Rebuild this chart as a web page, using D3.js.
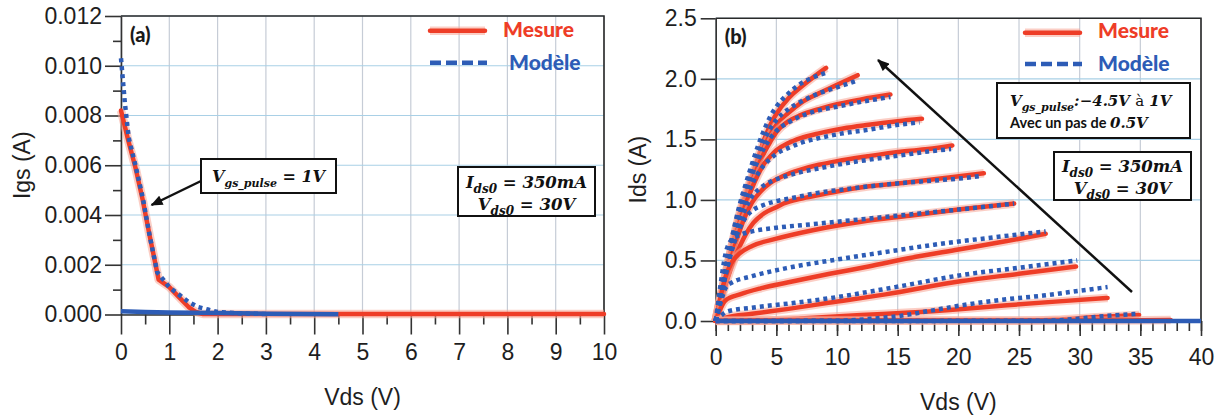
<!DOCTYPE html>
<html><head><meta charset="utf-8">
<script src="https://cdn.jsdelivr.net/npm/d3@7"></script>
<style>body{margin:0;background:#fff}</style>
</head><body>
<svg id="c" width="1224" height="418"></svg>
<script>
// ---------- DATA ----------
// Panel (a): Igs vs Vds, Vgs_pulse = 1V
const aXTicks = [0,1,2,3,4,5,6,7,8,9,10];
const aXMinor = [0.5,1.5,2.5,3.5,4.5,5.5,6.5,7.5,8.5,9.5];
const aYTicks = [0,0.002,0.004,0.006,0.008,0.010,0.012];
const aYMinor = [0.001,0.003,0.005,0.007,0.009,0.011];
const igsMesure = [[0,0.0082],[0.15,0.0070],[0.3,0.0059],[0.45,0.0046],[0.6,0.0031],[0.78,0.0014],[1.0,0.0011],[1.2,0.0007],[1.4,0.0003],[1.55,0.0001],[1.7,0.00002],[10,0.00002]];
const igsModele = [[0,0.0103],[0.08,0.0085],[0.16,0.0071],[0.3,0.0060],[0.45,0.0047],[0.6,0.0031],[0.75,0.0017],[1.0,0.0011],[1.2,0.0008],[1.4,0.0005],[1.6,0.0003],[1.8,0.0002],[2.0,0.0001],[2.5,0.00004],[3,0.00002]];
const igsModeleLow = [[0,0.00013],[0.5,0.0001],[1,0.00008],[2,0.00006],[3,0.00003],[4.5,0.00001]];

// Panel (b): Ids vs Vds, Vgs_pulse from 1V down to -4.5V (step 0.5V)
const bXTicks = [0,5,10,15,20,25,30,35,40];
const bXMinor = d3.range(0,41,1);
const bYTicks = [0,0.5,1.0,1.5,2.0,2.5];
const vgsPulse = [1,0.5,0,-0.5,-1,-1.5,-2,-2.5,-3,-3.5,-4,-4.5];
const idsMesure = [
 [[0,0],[0.5,0.24],[1,0.47],[1.5,0.7],[2,0.9],[2.5,1.06],[3,1.2],[3.5,1.35],[4,1.5],[4.5,1.62],[5,1.71],[6,1.84],[7,1.93],[8,2.01],[9.1,2.09]],
 [[0,0],[0.5,0.24],[1,0.47],[1.5,0.69],[2,0.88],[2.5,1.04],[3,1.18],[3.5,1.32],[4,1.44],[4.5,1.54],[5,1.62],[6,1.72],[7,1.8],[8.5,1.88],[10,1.95],[11.7,2.03]],
 [[0,0],[0.5,0.23],[1,0.46],[1.5,0.67],[2,0.85],[2.5,1.01],[3,1.15],[3.5,1.28],[4,1.39],[4.5,1.48],[5,1.56],[6,1.65],[7,1.70],[8.5,1.75],[10,1.79],[12,1.83],[14.4,1.87]],
 [[0,0],[0.5,0.22],[1,0.44],[1.5,0.64],[2,0.82],[2.5,0.97],[3,1.1],[3.5,1.21],[4,1.3],[4.5,1.36],[5,1.41],[6,1.47],[7,1.51],[8.5,1.55],[10.5,1.59],[12.6,1.62],[15,1.65],[17,1.67]],
 [[0,0],[0.5,0.21],[1,0.41],[1.5,0.59],[2,0.75],[2.5,0.88],[3,0.98],[3.7,1.07],[4.5,1.14],[5.6,1.2],[7,1.25],[8.5,1.29],[10,1.32],[12.5,1.36],[15.4,1.4],[17.5,1.42],[19.5,1.45]],
 [[0,0],[0.5,0.19],[1,0.36],[1.5,0.5],[2,0.62],[2.5,0.72],[3.1,0.81],[4,0.89],[5,0.94],[5.6,0.97],[7,1.01],[8.5,1.04],[10,1.07],[12.5,1.11],[15.4,1.14],[18,1.17],[20.4,1.2],[22.1,1.22]],
 [[0,0],[0.4,0.2],[0.8,0.36],[1.3,0.48],[2,0.56],[3,0.62],[5,0.68],[8,0.75],[12,0.82],[16,0.87],[20,0.92],[24.6,0.97]],
 [[0,0],[0.3,0.08],[0.8,0.17],[2,0.22],[3.7,0.27],[6,0.32],[9.4,0.39],[12.6,0.45],[16,0.52],[20,0.59],[24,0.66],[27.2,0.72]],
 [[0,0],[0.9,0.03],[3,0.06],[6,0.1],[9.3,0.15],[14,0.22],[20.3,0.33],[25,0.39],[29.7,0.45]],
 [[0,0],[4,0.003],[7,0.02],[12,0.05],[16,0.07],[20.3,0.1],[24,0.13],[28,0.16],[32.3,0.19]],
 [[0,0.003],[25,0.003],[28,0.01],[31,0.03],[34.9,0.05]],
 [[0,0.003],[33,0.005],[37.5,0.008]]
];
const idsModele = [
 [[0,0],[0.5,0.26],[1,0.52],[1.5,0.76],[2,0.97],[2.5,1.14],[3,1.3],[3.5,1.45],[4,1.58],[4.5,1.69],[5,1.77],[6,1.88],[7,1.96],[8,2.01],[9.1,2.05]],
 [[0,0],[0.5,0.26],[1,0.51],[1.5,0.74],[2,0.94],[2.5,1.11],[3,1.26],[3.5,1.39],[4,1.5],[4.5,1.59],[5,1.66],[6,1.75],[7,1.81],[8.5,1.88],[10,1.93],[11.5,1.98]],
 [[0,0],[0.5,0.25],[1,0.5],[1.5,0.72],[2,0.91],[2.5,1.07],[3,1.21],[3.5,1.33],[4,1.43],[4.5,1.51],[5,1.57],[6,1.64],[7,1.69],[8.5,1.74],[10,1.77],[12,1.81],[14.4,1.85]],
 [[0,0],[0.5,0.25],[1,0.48],[1.5,0.69],[2,0.87],[2.5,1.01],[3,1.13],[3.5,1.22],[4,1.29],[4.5,1.34],[5,1.38],[6,1.43],[7,1.47],[8.5,1.51],[10.5,1.55],[12.6,1.58],[15,1.62],[16.8,1.64]],
 [[0,0],[0.5,0.24],[1,0.46],[1.5,0.66],[2,0.82],[2.5,0.94],[3,1.03],[3.7,1.1],[4.5,1.15],[5.6,1.19],[7,1.23],[8.5,1.26],[10,1.29],[12.5,1.33],[15.4,1.37],[17.5,1.4],[19.4,1.42]],
 [[0,0],[0.5,0.24],[1,0.46],[1.5,0.64],[2,0.77],[2.5,0.86],[3,0.91],[4,0.96],[5,0.99],[6,1.01],[7,1.03],[8.5,1.06],[10,1.08],[12.5,1.11],[15.4,1.14],[18,1.16],[20.4,1.18],[22,1.2]],
 [[0,0],[0.4,0.3],[0.8,0.55],[1.3,0.67],[2,0.71],[3,0.74],[5,0.77],[8,0.8],[12,0.84],[16,0.88],[20,0.92],[24.6,0.97]],
 [[0,0],[0.4,0.15],[0.8,0.27],[1.2,0.31],[3,0.37],[6,0.44],[9.5,0.5],[14,0.57],[18,0.63],[22,0.68],[27.2,0.74]],
 [[0,0],[0.5,0.05],[1,0.08],[3,0.11],[6.5,0.15],[9.5,0.19],[14.8,0.28],[20.3,0.38],[25,0.44],[29.8,0.5]],
 [[0,0],[10,0.002],[13,0.02],[15,0.04],[18,0.09],[20.3,0.13],[24,0.18],[27,0.21],[30,0.25],[32.3,0.28]],
 [[0,0],[27,0.002],[30,0.02],[32,0.04],[34.9,0.06]],
 [[0,0],[40,0]]
];

// ---------- DRAW ----------
const RED = '#ee3d27', RED_GLOW = '#f7a595', BLUE = '#2d5cb6';
const svg = d3.select('#c');
svg.append('rect').attr('width',1224).attr('height',418).attr('fill','#fff');
const defs = svg.append('defs');
defs.append('marker').attr('id','arr').attr('viewBox','0 0 12 10')
  .attr('refX',11).attr('refY',5).attr('markerWidth',13).attr('markerHeight',10)
  .attr('markerUnits','userSpaceOnUse').attr('orient','auto')
  .append('path').attr('d','M0,0 L12,5 L0,10 Z').attr('fill','#111');

const TICKFONT = "'Liberation Sans', Arial, sans-serif";
const LEGFONT = "Lato, 'Open Sans', sans-serif";
const MATHFONT = "'DejaVu Serif', 'Liberation Serif', serif";

function panel(c){
  const g = svg.append('g');
  const x = d3.scaleLinear().domain(c.xDomain).range([c.left,c.right]);
  const y = d3.scaleLinear().domain(c.yDomain).range([c.bottom,c.top]);
  // grid
  g.append('g').selectAll('line').data(c.xTicks).join('line')
    .attr('x1',d=>x(d)).attr('x2',d=>x(d)).attr('y1',c.top).attr('y2',c.bottom)
    .attr('stroke','#c6ccd6').attr('stroke-width',1.2);
  g.append('g').selectAll('line').data(c.yTicks).join('line')
    .attr('x1',c.left).attr('x2',c.right).attr('y1',d=>y(d)).attr('y2',d=>y(d))
    .attr('stroke','#a9d0e6').attr('stroke-width',1.2);
  // frame (top & right)
  g.append('path').attr('d',`M${c.left},${c.top}H${c.right}V${c.bottom}`)
    .attr('fill','none').attr('stroke','#2a2a2a').attr('stroke-width',1.6);
  // axes
  const style = s => {
    s.select('.domain').attr('stroke','#333').attr('stroke-width',1.6);
    s.selectAll('.tick line').attr('stroke','#333').attr('stroke-width',1.6);
    s.selectAll('.tick text').attr('fill','#1e1e1e').style('font-family',TICKFONT).style('font-size','23px');
  };
  g.append('g').attr('transform',`translate(0,${c.bottom})`)
    .call(d3.axisBottom(x).tickValues(c.xMinor).tickSize(c.xMinorLen).tickSizeOuter(0).tickFormat(''))
    .call(style).call(s=>s.select('.domain').remove());
  g.append('g').attr('transform',`translate(${c.left},0)`)
    .call(d3.axisLeft(y).tickValues(c.yMinor).tickSize(c.yMinorLen).tickSizeOuter(0).tickFormat(''))
    .call(style).call(s=>s.select('.domain').remove());
  g.append('g').attr('transform',`translate(0,${c.bottom})`)
    .call(d3.axisBottom(x).tickValues(c.xTicks).tickSize(c.xTickLen).tickPadding(c.xPad).tickSizeOuter(0).tickFormat(c.xFmt))
    .call(style);
  g.append('g').attr('transform',`translate(${c.left},0)`)
    .call(d3.axisLeft(y).tickValues(c.yTicks).tickSize(c.yTickLen).tickPadding(c.yPad).tickSizeOuter(0).tickFormat(c.yFmt))
    .call(style);
  // titles
  g.append('text').attr('x',(c.left+c.right)/2).attr('y',c.xTitleY).attr('text-anchor','middle')
    .style('font-family',TICKFONT).style('font-size','23px').attr('fill','#1e1e1e').text(c.xTitle);
  g.append('text').attr('transform',`translate(${c.yTitleX},${(c.top+c.bottom)/2}) rotate(-90)`)
    .attr('text-anchor','middle').style('font-family',TICKFONT).style('font-size','23px').attr('fill','#1e1e1e').text(c.yTitle);
  // panel label
  g.append('text').attr('x',c.left+9).attr('y',c.top+26).style('font-family',LEGFONT)
    .style('font-weight','900').style('font-size','20px').attr('fill','#1a1a1a').text(c.label);
  return {g,x,y};
}

function redLine(g,line,data,w){
  g.append('path').datum(data).attr('d',line).attr('fill','none')
    .attr('stroke',RED_GLOW).attr('stroke-width',w+4).attr('stroke-opacity',0.55).attr('stroke-linejoin','round');
  g.append('path').datum(data).attr('d',line).attr('fill','none')
    .attr('stroke',RED).attr('stroke-width',w).attr('stroke-linejoin','round').attr('stroke-linecap','round');
}
function blueLine(g,line,data,w,dash){
  g.append('path').datum(data).attr('d',line).attr('fill','none')
    .attr('stroke',BLUE).attr('stroke-width',w).attr('stroke-dasharray',dash||null);
}

function legend(g,x0,yM,yB){
  redLine(g,d3.line(),[[x0,yM],[x0+55,yM]],4.5);
  blueLine(g,d3.line(),[[x0,yB],[x0+57,yB]],4.5,'11,5');
}
function legText(g,x,y,t,col){
  g.append('text').attr('x',x).attr('y',y).style('font-family',LEGFONT).style('font-weight','900')
    .style('font-size','21px').attr('fill',col).text(t);
}
// math text helper
function mathLine(g,x,y,parts,anchor,fs){
  fs = fs||17;
  const sub = Math.round(fs*0.7);
  const t = g.append('text').attr('x',x).attr('y',y).attr('text-anchor',anchor||'start')
    .style('font-family',MATHFONT).style('font-weight','bold').style('font-style','italic')
    .style('font-size',fs+'px').attr('fill','#111');
  let shift=0;
  parts.forEach(p=>{
    const s=t.append('tspan').text(p.t);
    if(p.sub){ s.attr('dy',5-shift).style('font-size',sub+'px'); shift=5; }
    else { if(shift){s.attr('dy',-shift); shift=0;} }
    if(p.sans) s.style('font-family',LEGFONT).style('font-style','normal').style('font-size',(fs-0.5)+'px');
    if(p.normal) s.style('font-style','normal').style('font-weight','normal');
  });
  return t;
}
function box(g,x0,y0,x1,y1){
  g.append('rect').attr('x',x0).attr('y',y0).attr('width',x1-x0).attr('height',y1-y0)
    .attr('fill','#fff').attr('stroke','#111').attr('stroke-width',2);
}

// ---------- Panel (a) ----------
const A = panel({left:121,right:604,top:16,bottom:314.5,xDomain:[0,10],yDomain:[0,0.012],
  xTicks:aXTicks,xMinor:aXMinor,yTicks:aYTicks,yMinor:aYMinor,
  xTickLen:20,xMinorLen:10,yTickLen:16,yMinorLen:8,xPad:9,yPad:3,
  xFmt:d3.format('d'),yFmt:d3.format('.3f'),
  xTitle:'Vds (V)',xTitleY:405,yTitle:'Igs (A)',yTitleX:30,label:'(a)'});
const lineA = d3.line().x(d=>A.x(d[0])).y(d=>A.y(d[1]));
redLine(A.g,lineA,igsMesure,4.5);
blueLine(A.g,lineA,igsModeleLow,4.5);
blueLine(A.g,lineA,igsModele,4.5,'4,4');
legend(A.g,430,30.7,62.7);
legText(A.g,503,37,'Mesure',RED);
legText(A.g,509,70,'Modèle',BLUE);
box(A.g,201,159,336,193);
mathLine(A.g,268.5,182,[{t:'V'},{t:'gs_pulse',sub:true},{t:' = 1V'}],'middle',16);
box(A.g,458,167,595,216);
mathLine(A.g,526.5,188,[{t:'I'},{t:'ds0',sub:true},{t:' = 350mA'}],'middle',16.5);
mathLine(A.g,526.5,210,[{t:'V'},{t:'ds0',sub:true},{t:' = 30V'}],'middle',16.5);
A.g.append('line').attr('x1',201).attr('y1',181).attr('x2',151.5).attr('y2',205)
  .attr('stroke','#111').attr('stroke-width',2.5).attr('marker-end','url(#arr)');

// ---------- Panel (b) ----------
const B = panel({left:715.7,right:1201,top:18.3,bottom:321,xDomain:[0,40],yDomain:[0,2.5],
  xTicks:bXTicks,xMinor:bXMinor,yTicks:bYTicks,yMinor:[],
  xTickLen:15,xMinorLen:10,yTickLen:15,yMinorLen:0,xPad:13,yPad:4,
  xFmt:d3.format('d'),yFmt:d3.format('.1f'),
  xTitle:'Vds (V)',xTitleY:410,yTitle:'Ids (A)',yTitleX:646,label:'(b)'});
const lineB = d3.line().x(d=>B.x(d[0])).y(d=>B.y(d[1])).curve(d3.curveMonotoneX);
idsMesure.forEach(c=>redLine(B.g,lineB,c,4.5));
idsModele.forEach((c,i)=>blueLine(B.g,lineB,c,4.5,i===idsModele.length-1?null:'4,4'));
legend(B.g,1025,32.7,64);
legText(B.g,1098,38,'Mesure',RED);
legText(B.g,1098,71,'Modèle',BLUE);
box(B.g,997,83,1190,138);
mathLine(B.g,1010,106,[{t:'V'},{t:'gs_pulse',sub:true},{t:':−4.5V '},{t:'à',normal:true},{t:' 1V'}],'start',15);
mathLine(B.g,1010,128,[{t:'Avec un pas de ',sans:true},{t:'0.5V'}],'start',15);
box(B.g,1054,152,1191,200);
mathLine(B.g,1122.5,172,[{t:'I'},{t:'ds0',sub:true},{t:' = 350mA'}],'middle',16.5);
mathLine(B.g,1122.5,194,[{t:'V'},{t:'ds0',sub:true},{t:' = 30V'}],'middle',16.5);
B.g.append('line').attr('x1',1132).attr('y1',292).attr('x2',878).attr('y2',60)
  .attr('stroke','#111').attr('stroke-width',2.5).attr('marker-end','url(#arr)');
</script>
</body></html>
